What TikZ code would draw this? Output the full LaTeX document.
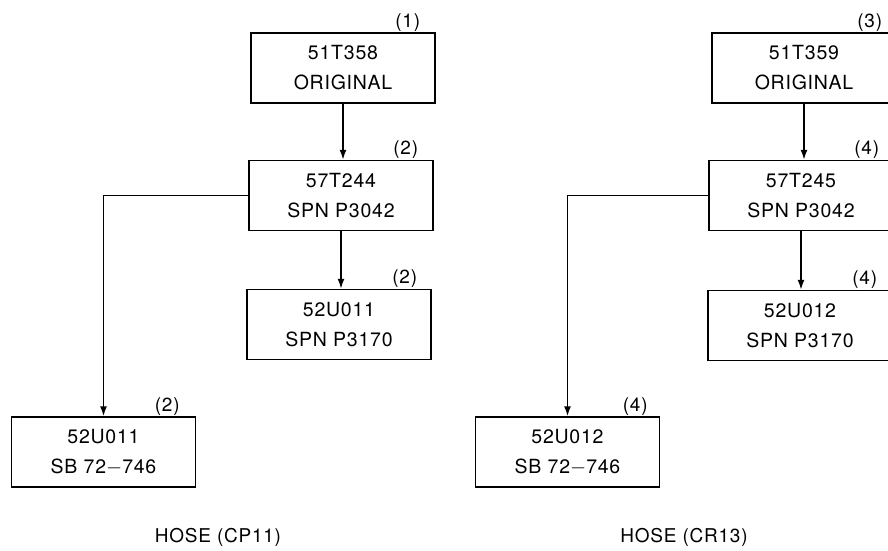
\documentclass[tikz,border=0pt]{standalone}
\usepackage{fontspec}
\setmainfont{TeX Gyre Heros}[LetterSpace=4.0]
\usetikzlibrary{arrows.meta}
\begin{document}
\begin{tikzpicture}[x=1pt,y=-1pt,
  part/.style={draw,line width=1.5pt,rectangle,minimum width=184pt,minimum height=70pt,
    inner sep=0pt,align=center,font=\fontsize{19.5}{30}\selectfont},
  qty/.style={font=\fontsize{19}{20}\selectfont,inner sep=0pt,anchor=south},
  ttl/.style={font=\fontsize{19}{22}\selectfont,inner sep=0pt},
  arr/.style={line width=1.5pt,-{Latex[length=10pt,width=7pt]}}]
\useasboundingbox (0,0) rectangle (888,550);
% left tree
\node[part] (b1) at (343,68) {51T358\\ORIGINAL};
\node[part] (b2) at (341,195.5) {57T244\\SPN P3042};
\node[part] (b3) at (339,324.5) {52U011\\SPN P3170};
\node[part] (b4) at (103.5,452) {52U011\\SB 72$-$746};
\node[qty] (q1) at ([xshift=-28pt,yshift=1pt]b1.north east) {(1)};
\node[qty] (q2) at ([xshift=-28pt,yshift=1pt]b2.north east) {(2)};
\node[qty] (q3) at ([xshift=-27pt,yshift=1pt]b3.north east) {(2)};
\node[qty] (q4) at ([xshift=-29pt,yshift=1pt]b4.north east) {(2)};
\draw[arr] (b1.south) -- (b1.south |- b2.north);
\draw[arr] (b2.south) -- (b2.south |- b3.north);
\draw[arr] (b2.west) -| (b4.north);
\node[ttl] (t1) at (218,537) {HOSE (CP11)};
% right tree
\node[part] (b5) at (804,68) {51T359\\ORIGINAL};
\node[part] (b6) at (801,195.5) {57T245\\SPN P3042};
\node[part] (b7) at (800,325.5) {52U012\\SPN P3170};
\node[part] (b8) at (567.5,452) {52U012\\SB 72$-$746};
\node[qty] (q5) at ([xshift=-27pt,yshift=1pt]b5.north east) {(3)};
\node[qty] (q6) at ([xshift=-27pt,yshift=1pt]b6.north east) {(4)};
\node[qty] (q7) at ([xshift=-28pt,yshift=1pt]b7.north east) {(4)};
\node[qty] (q8) at ([xshift=-25pt,yshift=1pt]b8.north east) {(4)};
\draw[arr] (b5.south) -- (b5.south |- b6.north);
\draw[arr] (b6.south) -- (b6.south |- b7.north);
\draw[arr] (b6.west) -| (b8.north);
\node[ttl] (t2) at (684,537) {HOSE (CR13)};
\end{tikzpicture}
\end{document}
